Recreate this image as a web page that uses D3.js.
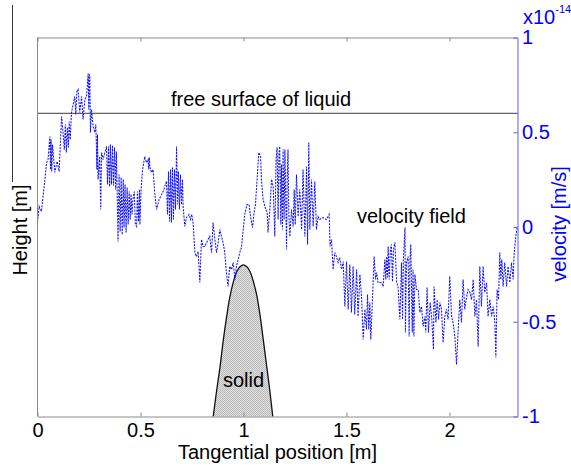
<!DOCTYPE html>
<html>
<head>
<meta charset="utf-8">
<script src="https://cdn.jsdelivr.net/npm/d3@7"></script>
<style>
html,body{margin:0;padding:0;background:#fff;}
svg{display:block;font-family:"Liberation Sans",Arial,Helvetica,sans-serif;}
</style>
</head>
<body>
<svg id="chart" width="571" height="468"></svg>
<script>
// ---- data ----
const xTicks = [0, 0.5, 1, 1.5, 2];
const vTicks = [-1, -0.5, 0, 0.5, 1];
const freeSurfaceHeight = 0.8;
const solidX = [0.853,0.870,0.886,0.902,0.918,0.934,0.951,0.967,0.983,0.999,1.016,1.032,1.048,1.064,1.080,1.096,1.113,1.129,1.142];
const solidH = [0,0.070,0.131,0.202,0.263,0.316,0.356,0.382,0.395,0.400,0.395,0.382,0.356,0.321,0.268,0.202,0.131,0.062,0];
const velX = [
0.000,0.008,0.019,0.035,0.044,0.051,0.060,0.063,0.066,0.069,0.073,0.084,0.095,0.105,0.117,0.124,0.130,0.135,0.140,0.145,
0.150,0.154,0.159,0.165,0.181,0.186,0.191,0.197,0.205,0.214,0.221,0.230,0.238,0.246,0.249,0.252,0.254,0.257,0.262,0.270,
0.278,0.283,0.286,0.288,0.291,0.294,0.302,0.307,0.311,0.318,0.335,0.340,0.345,0.350,0.354,0.359,0.364,0.369,0.374,0.379,
0.383,0.391,0.396,0.401,0.406,0.411,0.416,0.420,0.425,0.430,0.435,0.440,0.445,0.450,0.454,0.459,0.463,0.470,0.475,0.481,
0.485,0.490,0.495,0.497,0.503,0.510,0.521,0.529,0.537,0.540,0.543,0.545,0.553,0.561,0.569,0.578,0.590,0.610,0.626,0.631,
0.636,0.641,0.646,0.650,0.655,0.660,0.665,0.670,0.675,0.680,0.684,0.689,0.694,0.699,0.704,0.707,0.715,0.723,0.736,0.743,
0.749,0.755,0.764,0.772,0.780,0.788,0.796,0.804,0.812,0.828,0.836,0.845,0.852,0.861,0.869,0.877,0.885,0.893,0.901,0.909,
0.917,0.925,0.933,0.942,0.950,0.958,0.966,0.982,0.990,1.006,1.017,1.027,1.034,1.044,1.050,1.058,1.066,1.074,1.083,1.087,
1.095,1.108,1.115,1.119,1.128,1.136,1.144,1.152,1.158,1.163,1.168,1.172,1.176,1.181,1.184,1.189,1.192,1.197,1.201,1.209,
1.212,1.216,1.220,1.225,1.233,1.241,1.246,1.251,1.257,1.265,1.273,1.282,1.289,1.298,1.306,1.311,1.317,1.322,1.330,1.338,
1.346,1.354,1.362,1.370,1.386,1.403,1.416,1.420,1.427,1.435,1.443,1.451,1.459,1.467,1.476,1.484,1.492,1.500,1.508,1.516,
1.524,1.532,1.540,1.549,1.556,1.565,1.573,1.581,1.589,1.597,1.602,1.608,1.613,1.618,1.624,1.634,1.641,1.646,1.653,1.670,
1.678,1.686,1.691,1.694,1.699,1.702,1.707,1.713,1.718,1.723,1.728,1.735,1.743,1.750,1.759,1.767,1.772,1.776,1.784,1.786,
1.791,1.799,1.804,1.808,1.812,1.819,1.823,1.827,1.832,1.840,1.848,1.856,1.864,1.872,1.880,1.885,1.891,1.898,1.906,1.914,
1.922,1.925,1.934,1.940,1.947,1.953,1.961,1.969,1.977,1.985,1.993,2.001,2.010,2.017,2.026,2.034,2.042,2.050,2.058,2.066,
2.074,2.083,2.090,2.099,2.107,2.115,2.123,2.131,2.139,2.147,2.155,2.163,2.171,2.180,2.187,2.196,2.204,2.212,2.220,2.225,
2.231,2.238,2.244,2.249,2.254,2.260,2.268,2.277,2.284,2.293,2.301,2.309,2.314,2.322,2.329];
const velV = [
0.024,0.108,0.082,0.240,0.340,0.356,0.478,0.303,0.462,0.293,0.435,0.288,0.346,0.293,0.583,0.499,0.409,0.541,0.393,0.525,
0.420,0.557,0.462,0.604,0.689,0.594,0.715,0.726,0.604,0.689,0.567,0.673,0.689,0.810,0.620,0.805,0.794,0.499,0.620,0.530,
0.499,0.541,0.425,0.303,0.488,0.251,0.372,0.092,0.393,0.356,0.425,0.224,0.425,0.214,0.435,0.224,0.430,0.219,0.420,0.198,
0.398,-0.077,0.277,-0.024,0.261,-0.040,0.251,-0.003,0.224,-0.029,0.208,0.013,0.187,0.040,0.172,0.066,0.145,0.187,0.013,0.003,
0.187,0.029,0.198,0.013,0.198,0.303,0.372,0.340,0.356,0.303,0.367,0.319,0.288,0.303,0.182,0.092,0.145,0.187,0.242,0.066,
0.293,0.029,0.303,0.024,0.314,0.040,0.303,0.092,0.425,0.119,0.293,0.092,0.277,0.119,0.251,0.108,0.003,0.050,0.066,0.040,
0.066,0.024,-0.135,-0.156,-0.129,-0.293,-0.066,-0.103,-0.103,-0.066,-0.050,-0.135,0.024,-0.066,-0.135,-0.082,-0.013,-0.050,-0.082,-0.135,
-0.240,-0.314,-0.208,-0.224,-0.187,-0.277,-0.208,-0.135,-0.108,0.066,0.119,0.119,0.055,-0.003,0.066,0.119,0.251,0.393,0.372,0.251,
0.145,0.092,0.077,-0.029,0.092,0.251,0.214,-0.050,0.356,0.420,0.040,0.383,0.425,0.013,0.330,-0.013,0.409,0.040,0.409,-0.119,
0.251,0.409,0.066,-0.050,0.092,0.003,0.198,0.013,0.277,0.055,0.198,-0.013,0.303,-0.050,0.319,-0.092,0.446,-0.013,0.251,0.003,
0.240,-0.013,0.055,0.040,0.050,0.040,0.066,-0.103,-0.066,-0.224,-0.135,-0.156,-0.187,-0.161,-0.224,-0.182,-0.420,-0.182,-0.435,-0.198,
-0.451,-0.208,-0.462,-0.224,-0.472,-0.251,-0.367,-0.594,-0.435,-0.541,-0.356,-0.541,-0.398,-0.594,-0.435,-0.156,-0.277,-0.240,-0.293,-0.293,
-0.314,-0.172,-0.277,-0.156,-0.266,-0.103,-0.277,-0.119,-0.092,-0.288,-0.119,-0.082,-0.288,-0.314,-0.488,-0.188,-0.488,-0.172,-0.003,-0.557,
-0.188,-0.156,-0.578,-0.172,-0.092,-0.557,-0.224,-0.578,-0.251,-0.330,-0.330,-0.451,-0.420,-0.525,-0.472,-0.557,-0.319,-0.557,-0.398,-0.488,
-0.646,-0.314,-0.504,-0.383,-0.488,-0.398,-0.435,-0.609,-0.472,-0.435,-0.488,-0.261,-0.472,-0.504,-0.578,-0.726,-0.541,-0.383,-0.504,-0.277,
-0.435,-0.367,-0.330,-0.346,-0.383,-0.277,-0.472,-0.383,-0.631,-0.208,-0.420,-0.208,-0.346,-0.293,-0.472,-0.383,-0.472,-0.420,-0.504,-0.689,
-0.330,-0.383,-0.135,-0.277,-0.172,-0.314,-0.188,-0.314,-0.208,-0.293,-0.188,-0.277,-0.135,-0.050,0.003];

// ---- chart ----
const svg = d3.select("#chart");
const L = 37.5, R = 517.5, T = 37.5, B = 416.5;
const x = d3.scaleLinear().domain([0, 2.33]).range([L, R]);
const v = d3.scaleLinear().domain([-1, 1]).range([B, T]);
const h = d3.scaleLinear().domain([0, 1]).range([B, T]);

const defs = svg.append("defs");
const pat = defs.append("pattern").attr("id","checker").attr("width",2).attr("height",2)
  .attr("patternUnits","userSpaceOnUse");
pat.append("rect").attr("width",2).attr("height",2).attr("fill","#e2e2e2");
pat.append("rect").attr("width",1).attr("height",1).attr("fill","#b8b8b8");
pat.append("rect").attr("x",1).attr("y",1).attr("width",1).attr("height",1).attr("fill","#b8b8b8");

// solid body
const solidPts = solidX.map((d,i)=>[d, solidH[i]]);
svg.append("path")
  .attr("d", d3.line().x(d=>x(d[0])).y(d=>h(d[1])).curve(d3.curveCatmullRom)(solidPts))
  .attr("fill","url(#checker)").attr("stroke","#111").attr("stroke-width",1.3);

// velocity field
const velPts = velX.map((d,i)=>[d, velV[i]]);
svg.append("path")
  .attr("d", d3.line().x(d=>x(d[0])).y(d=>v(d[1]))(velPts))
  .attr("fill","none").attr("stroke","#1010ff").attr("stroke-width",1.05)
  .attr("stroke-dasharray","2,1.2");

// free surface
svg.append("line").attr("x1",x(0)).attr("x2",x(2.33)).attr("y1",h(freeSurfaceHeight)).attr("y2",h(freeSurfaceHeight))
  .attr("stroke","#3a3a3a").attr("stroke-width",1);

// bottom axis
const gB = svg.append("g").attr("transform",`translate(0,${B})`)
  .call(d3.axisBottom(x).tickValues(xTicks).tickSize(-4).tickSizeOuter(0).tickPadding(6).tickFormat(d=>String(d)));
gB.select(".domain").attr("stroke","#8a8a8a");
gB.selectAll(".tick line").attr("stroke","#8a8a8a");
gB.selectAll("text").attr("font-size",20).attr("fill","#000").attr("font-family","Liberation Sans, Arial, sans-serif");

// top axis
const gT = svg.append("g").attr("transform",`translate(0,${T})`)
  .call(d3.axisTop(x).tickValues(xTicks).tickSize(-4).tickSizeOuter(0).tickFormat(""));
gT.select(".domain").attr("stroke","#8a8a8a");
gT.selectAll(".tick line").attr("stroke","#8a8a8a");

// left border
svg.append("line").attr("x1",L).attr("x2",L).attr("y1",T).attr("y2",B).attr("stroke","#8a8a8a");

// right axis (velocity)
const gR = svg.append("g").attr("transform",`translate(${R},0)`)
  .call(d3.axisRight(v).tickValues(vTicks).tickSize(-4).tickSizeOuter(0).tickPadding(4.5).tickFormat(d=>String(d)));
gR.select(".domain").attr("stroke","#5a5aff");
gR.selectAll(".tick line").attr("stroke","#5a5aff");
gR.selectAll("text").attr("font-size",20).attr("fill","#0000ff").attr("font-family","Liberation Sans, Arial, sans-serif");

// exponent label
const ex = svg.append("text").attr("x",523).attr("y",24).attr("fill","#0000ff").attr("font-size",20);
ex.append("tspan").text("x10");
ex.append("tspan").attr("font-size",11).attr("dy",-11).text("-14");

// axis titles
svg.append("text").attr("x",(L+R)/2).attr("y",459).attr("text-anchor","middle")
  .attr("font-size",20).attr("fill","#000").text("Tangential position [m]");
svg.append("text").attr("transform","translate(26.5,230) rotate(-90)").attr("text-anchor","middle")
  .attr("font-size",20).attr("fill","#000").text("Height [m]");
svg.append("text").attr("transform","translate(566,224) rotate(-90)").attr("text-anchor","middle")
  .attr("font-size",20).attr("fill","#0000ff").text("velocity [m/s]");
svg.append("line").attr("x1",12.5).attr("x2",12.5).attr("y1",5).attr("y2",182)
  .attr("stroke","#333").attr("stroke-width",1);

// annotations
svg.append("text").attr("x",171).attr("y",106).attr("font-size",20).attr("fill","#000").text("free surface of liquid");
svg.append("text").attr("x",357).attr("y",223).attr("font-size",20).attr("fill","#000").text("velocity field");
svg.append("text").attr("x",x(1)).attr("y",386.5).attr("text-anchor","middle").attr("font-size",20).attr("fill","#000").text("solid");
</script>
</body>
</html>
